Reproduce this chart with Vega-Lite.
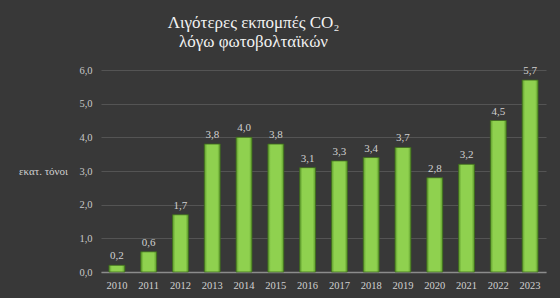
{
  "$schema": "https://vega.github.io/schema/vega-lite/v6.json",
  "width": 445,
  "height": 202,
  "autosize": {"type": "none"},
  "padding": {"left": 101, "top": 70, "right": 14, "bottom": 26},
  "background": "#383838",
  "title": {
    "text": ["Λιγότερες εκπομπές CO₂", "λόγω φωτοβολταϊκών"],
    "font": "Liberation Serif",
    "fontSize": 17,
    "fontWeight": "normal",
    "color": "#f2f2f2",
    "lineHeight": 19,
    "anchor": "middle",
    "dx": -70,
    "offset": 14
  },
  "data": {
    "values": [
      {"year": "2010", "value": 0.2},
      {"year": "2011", "value": 0.6},
      {"year": "2012", "value": 1.7},
      {"year": "2013", "value": 3.8},
      {"year": "2014", "value": 4.0},
      {"year": "2015", "value": 3.8},
      {"year": "2016", "value": 3.1},
      {"year": "2017", "value": 3.3},
      {"year": "2018", "value": 3.4},
      {"year": "2019", "value": 3.7},
      {"year": "2020", "value": 2.8},
      {"year": "2021", "value": 3.2},
      {"year": "2022", "value": 4.5},
      {"year": "2023", "value": 5.7}
    ]
  },
  "encoding": {
    "x": {
      "field": "year",
      "type": "ordinal",
      "scale": {"paddingInner": 0.5, "paddingOuter": 0.25},
      "axis": {
        "title": null,
        "labelAngle": 0,
        "labelFont": "Liberation Serif",
        "labelFontSize": 10.5,
        "labelColor": "#d0d0d0",
        "labelPadding": 8,
        "ticks": false,
        "domainColor": "#8c8c8c",
        "domainWidth": 1.5
      }
    },
    "y": {
      "field": "value",
      "type": "quantitative",
      "scale": {"domain": [0, 6]},
      "axis": {
        "title": "εκατ. τόνοι",
        "titleAngle": 0,
        "titleFont": "Liberation Serif",
        "titleFontSize": 11,
        "titleFontWeight": "normal",
        "titleColor": "#d0d0d0",
        "titleX": -58,
        "titleY": 101,
        "titleAlign": "center",
        "titleBaseline": "middle",
        "values": [0, 1, 2, 3, 4, 5, 6],
        "format": ".1f",
        "labelFont": "Liberation Serif",
        "labelFontSize": 10.5,
        "labelColor": "#c8c8c8",
        "labelPadding": 9,
        "ticks": false,
        "domain": false,
        "gridColor": "#545454",
        "gridWidth": 1
      }
    }
  },
  "layer": [
    {
      "mark": {
        "type": "bar",
        "fill": {
          "gradient": "linear",
          "x1": 0, "x2": 1, "y1": 0, "y2": 0,
          "stops": [
            {"offset": 0, "color": "#5c9a2a"},
            {"offset": 0.18, "color": "#8fd14f"},
            {"offset": 0.82, "color": "#8fd14f"},
            {"offset": 1, "color": "#5c9a2a"}
          ]
        },
        "stroke": "#3e6b1c",
        "strokeWidth": 0.8
      }
    },
    {
      "mark": {
        "type": "text",
        "dy": -9,
        "font": "Liberation Serif",
        "fontSize": 11,
        "color": "#d0d0d0"
      },
      "encoding": {
        "text": {"field": "value", "type": "quantitative", "format": ".1f"}
      }
    }
  ],
  "config": {
    "locale": {
      "number": {"decimal": ",", "thousands": ".", "grouping": [3], "currency": ["", " €"]}
    },
    "view": {"stroke": null}
  }
}
